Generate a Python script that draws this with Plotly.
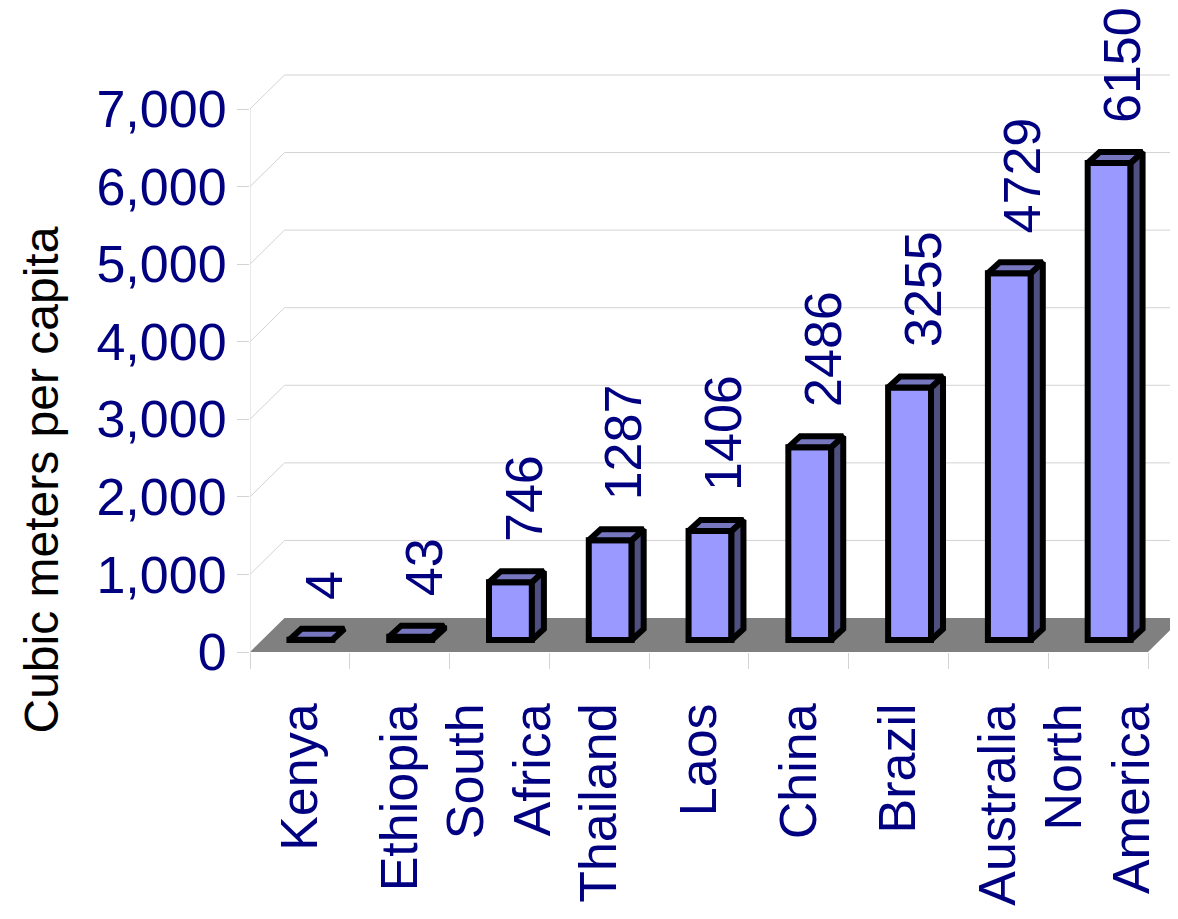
import plotly.graph_objects as go

# ---- data ----
countries = ["Kenya", "Ethiopia", "South<br>Africa", "Thailand", "Laos",
             "China", "Brazil", "Australia", "North<br>America"]
values = [4, 43, 746, 1287, 1406, 2486, 3255, 4729, 6150]
y_ticks = [0, 1000, 2000, 3000, 4000, 5000, 6000, 7000]
y_title = "Cubic meters per capita"

# ---- geometry (pixel based helpers) ----
W, H = 1178, 919
OFF = 8                        # page body margin offset
LEFT = 250 - OFF
CAT_PX = 99.78                 # pixels per category
Y0_PX = 652 - OFF              # pixel row of value 0 (front)
K = (652 - 109) / 7000.0       # pixels per unit value


def dxu(px):
    return px / CAT_PX


def dyu(px):
    return px / K


xmax = (W - LEFT) / CAT_PX
ymin = -(H - Y0_PX) / K
ymax = Y0_PX / K

BACK_DX, BACK_DY = dxu(34.5), dyu(34)     # depth of the floor / walls
BAR_FX, BAR_FY = dxu(11), dyu(12)         # front plane of bars
BAR_DX, BAR_DY = dxu(12), dyu(11)         # bar depth
BAR_W = 0.43
EDGE = 6

FONT = "Liberation Sans, Arial, sans-serif"
NAVY = "#000080"
GRID = "#D3D3D3"

centers = [i + 0.5 for i in range(len(values))]
fx = [c + BAR_FX for c in centers]

# side / top faces from data
side_x, side_y, top_x, top_y = [], [], [], []
for f, v in zip(fx, values):
    xl, xr = f - BAR_W / 2, f + BAR_W / 2
    yb, yt = BAR_FY, BAR_FY + v
    side_x += [xr, xr + BAR_DX, xr + BAR_DX, xr, xr, None]
    side_y += [yb, yb + BAR_DY, yt + BAR_DY, yt, yb, None]
    top_x += [xl, xr, xr + BAR_DX, xl + BAR_DX, xl, None]
    top_y += [yt, yt, yt + BAR_DY, yt + BAR_DY, yt, None]

fig = go.Figure()
fig.add_trace(go.Bar(
    x=fx, y=values, base=BAR_FY, width=BAR_W,
    marker=dict(color="#9999FF", line=dict(color="black", width=EDGE)),
    hoverinfo="skip", showlegend=False))
fig.add_trace(go.Scatter(
    x=side_x, y=side_y, mode="lines", fill="toself", fillcolor="#4F4F80",
    line=dict(color="black", width=EDGE), hoverinfo="skip", showlegend=False))
fig.add_trace(go.Scatter(
    x=top_x, y=top_y, mode="lines", fill="toself", fillcolor="#7777C0",
    line=dict(color="black", width=EDGE), hoverinfo="skip", showlegend=False))

shapes = []
# floor
shapes.append(dict(
    type="path", xref="x", yref="y", layer="below",
    path=f"M 0 0 L 9 0 L {9 + BACK_DX} {BACK_DY} L {BACK_DX} {BACK_DY} Z",
    fillcolor="#808080", line=dict(width=0)))
# back-wall grid lines with diagonals
for t in y_ticks[1:]:
    shapes.append(dict(
        type="path", xref="x", yref="y", layer="below",
        path=f"M 0 {t} L {BACK_DX} {t + BACK_DY} L {xmax + 1} {t + BACK_DY}",
        line=dict(color=GRID, width=1)))
# front vertical axis line
shapes.append(dict(type="line", xref="x", yref="y", layer="below",
                   x0=0, x1=0, y0=-dyu(16), y1=y_ticks[-1],
                   line=dict(color=GRID, width=1)))

annotations = []
for c, v in zip(centers, values):
    annotations.append(dict(
        x=c + 0.24, y=BAR_FY + v + dyu(38), xref="x", yref="y",
        text=str(v), textangle=-90, showarrow=False,
        xanchor="center", yanchor="bottom",
        font=dict(family=FONT, size=52, color=NAVY)))
annotations.append(dict(
    x=(41 - OFF - LEFT) / (W - LEFT), y=(H - (480.5 - OFF)) / H,
    xref="paper", yref="paper",
    text=y_title, textangle=-90, showarrow=False,
    xanchor="center", yanchor="middle",
    font=dict(family=FONT, size=48, color="black")))

fig.update_layout(
    width=W, height=H,
    margin=dict(l=LEFT, r=0, t=0, b=0, pad=0),
    paper_bgcolor="white", plot_bgcolor="white",
    showlegend=False, shapes=shapes, annotations=annotations,
    font=dict(family=FONT),
    xaxis=dict(
        range=[0, xmax], anchor="free", position=(H - Y0_PX) / H,
        tickmode="array", tickvals=centers, ticktext=countries,
        tickangle=-90, ticks="", showgrid=False, zeroline=False,
        showline=False, automargin=False, ticklabelstandoff=40,
        tickfont=dict(family=FONT, size=52, color=NAVY),
        minor=dict(tickmode="array", tickvals=list(range(10)),
                   ticks="outside", ticklen=16, tickcolor=GRID,
                   tickwidth=1, showgrid=False)),
    yaxis=dict(
        range=[ymin, ymax], tickmode="array", tickvals=y_ticks,
        tickformat=",", ticks="outside", ticklen=12, tickcolor=GRID,
        tickwidth=1, showgrid=False, zeroline=False, showline=False,
        automargin=False,
        tickfont=dict(family=FONT, size=52, color=NAVY)),
)

fig.write_html("out.html")
